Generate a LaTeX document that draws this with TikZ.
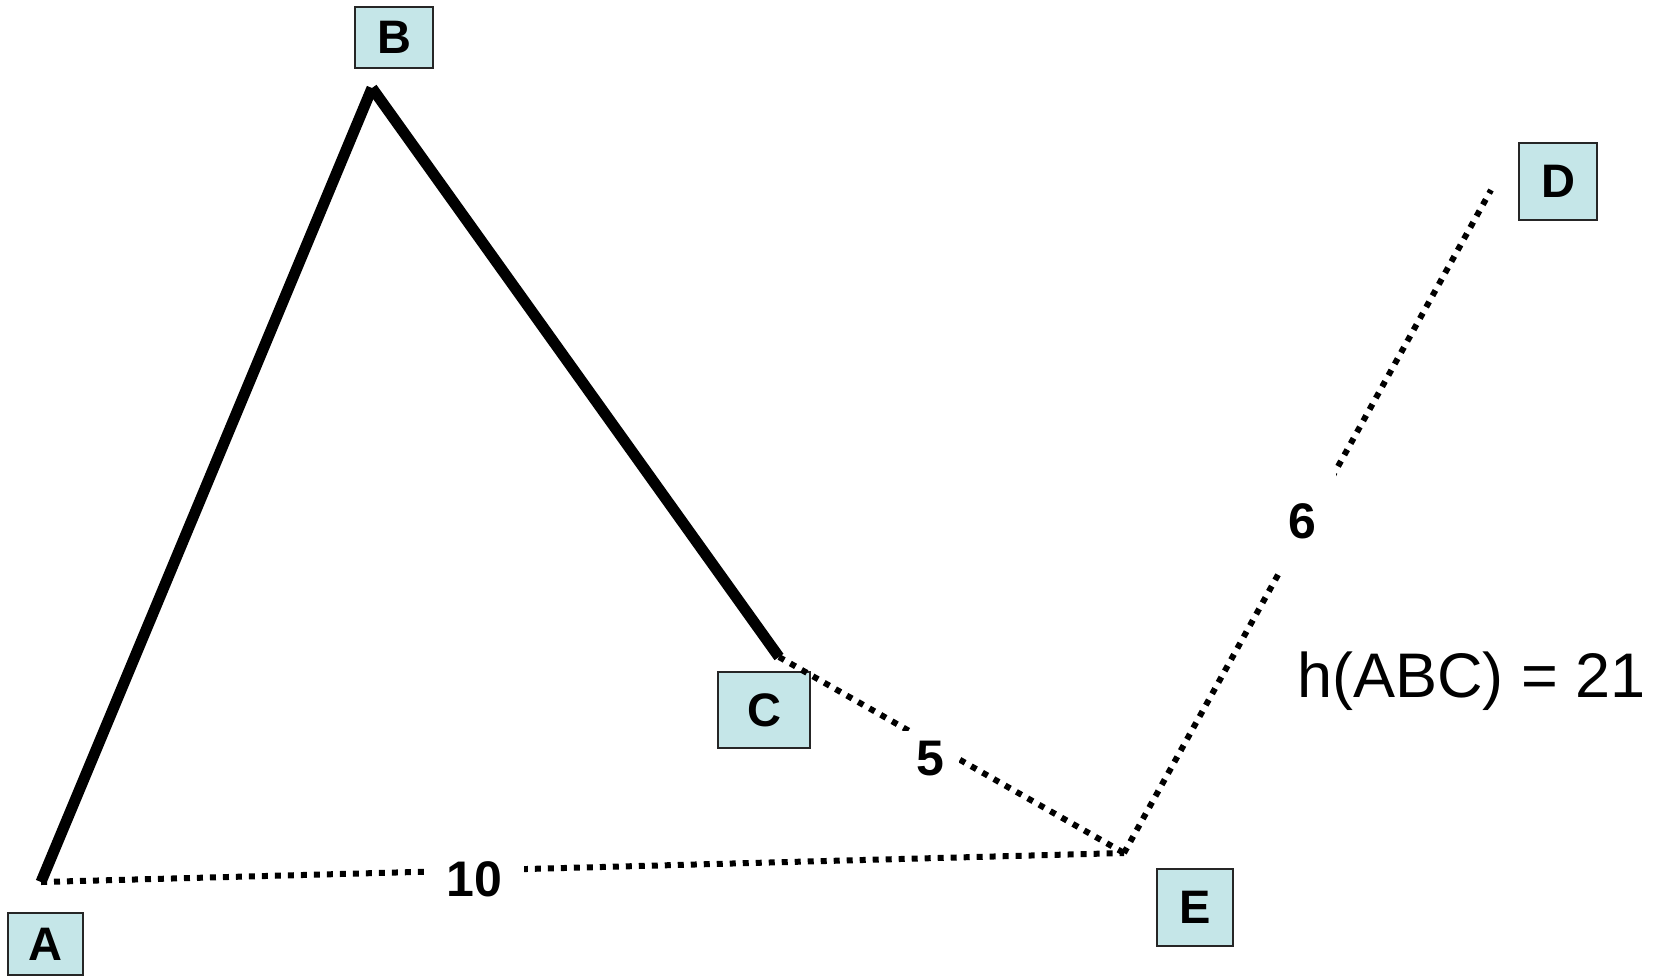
\documentclass[tikz,border=0pt]{standalone}
\usepackage{fontspec}
\setmainfont{Liberation Sans}
\begin{document}
\begin{tikzpicture}[x=1pt,y=-1pt,
  vbox/.style={draw=black!85, line width=1.8pt, fill=boxcyan, inner sep=0pt,
    font=\fontsize{47}{50}\selectfont\bfseries},
  solidedge/.style={line width=11pt, line cap=butt},
  dotedge/.style={line width=6pt, dash pattern=on 6pt off 7pt},
  lbl/.style={fill=white, font=\fontsize{50}{54}\selectfont\bfseries, inner xsep=22pt, inner ysep=14pt}
]
\definecolor{boxcyan}{HTML}{C5E6E8}
\useasboundingbox (0,0) rectangle (1661,975);
% vertices
\coordinate (a) at (41,882);
\coordinate (b) at (372,88);
\coordinate (c) at (779,657);
\coordinate (e) at (1124,853);
\coordinate (d) at (1491,190);
% boxes
\node[vbox, minimum width=75pt, minimum height=62pt] (A) at (45.5,944) {A};
\node[vbox, minimum width=78pt, minimum height=61pt] (B) at (394,37.5) {B};
\node[vbox, minimum width=92pt, minimum height=76pt] (C) at (764,710) {C};
\node[vbox, minimum width=76pt, minimum height=77pt] (E) at (1195,907.5) {E};
\node[vbox, minimum width=78pt, minimum height=77pt] (D) at (1558,181.5) {D};
% edges
\draw[solidedge] (a) -- (b);
\draw[solidedge] (b) -- (c);
\draw[dotedge] (a) -- (e) node[lbl, pos=0.40, yshift=-9pt] (l10) {10};
\draw[dotedge] (c) -- (e) node[lbl, pos=0.44, yshift=-15pt, inner xsep=14pt, inner ysep=10pt] (l5) {5};
\draw[dotedge] (e) -- (d) node[lbl, pos=0.50, xshift=-5pt, inner xsep=20pt, inner ysep=34pt] (l6) {6};
% heuristic
\node[anchor=base west, inner sep=0pt, font=\fontsize{63}{66}\selectfont] (h) at (1297,697) {h(ABC) = 21};
\end{tikzpicture}
\end{document}
